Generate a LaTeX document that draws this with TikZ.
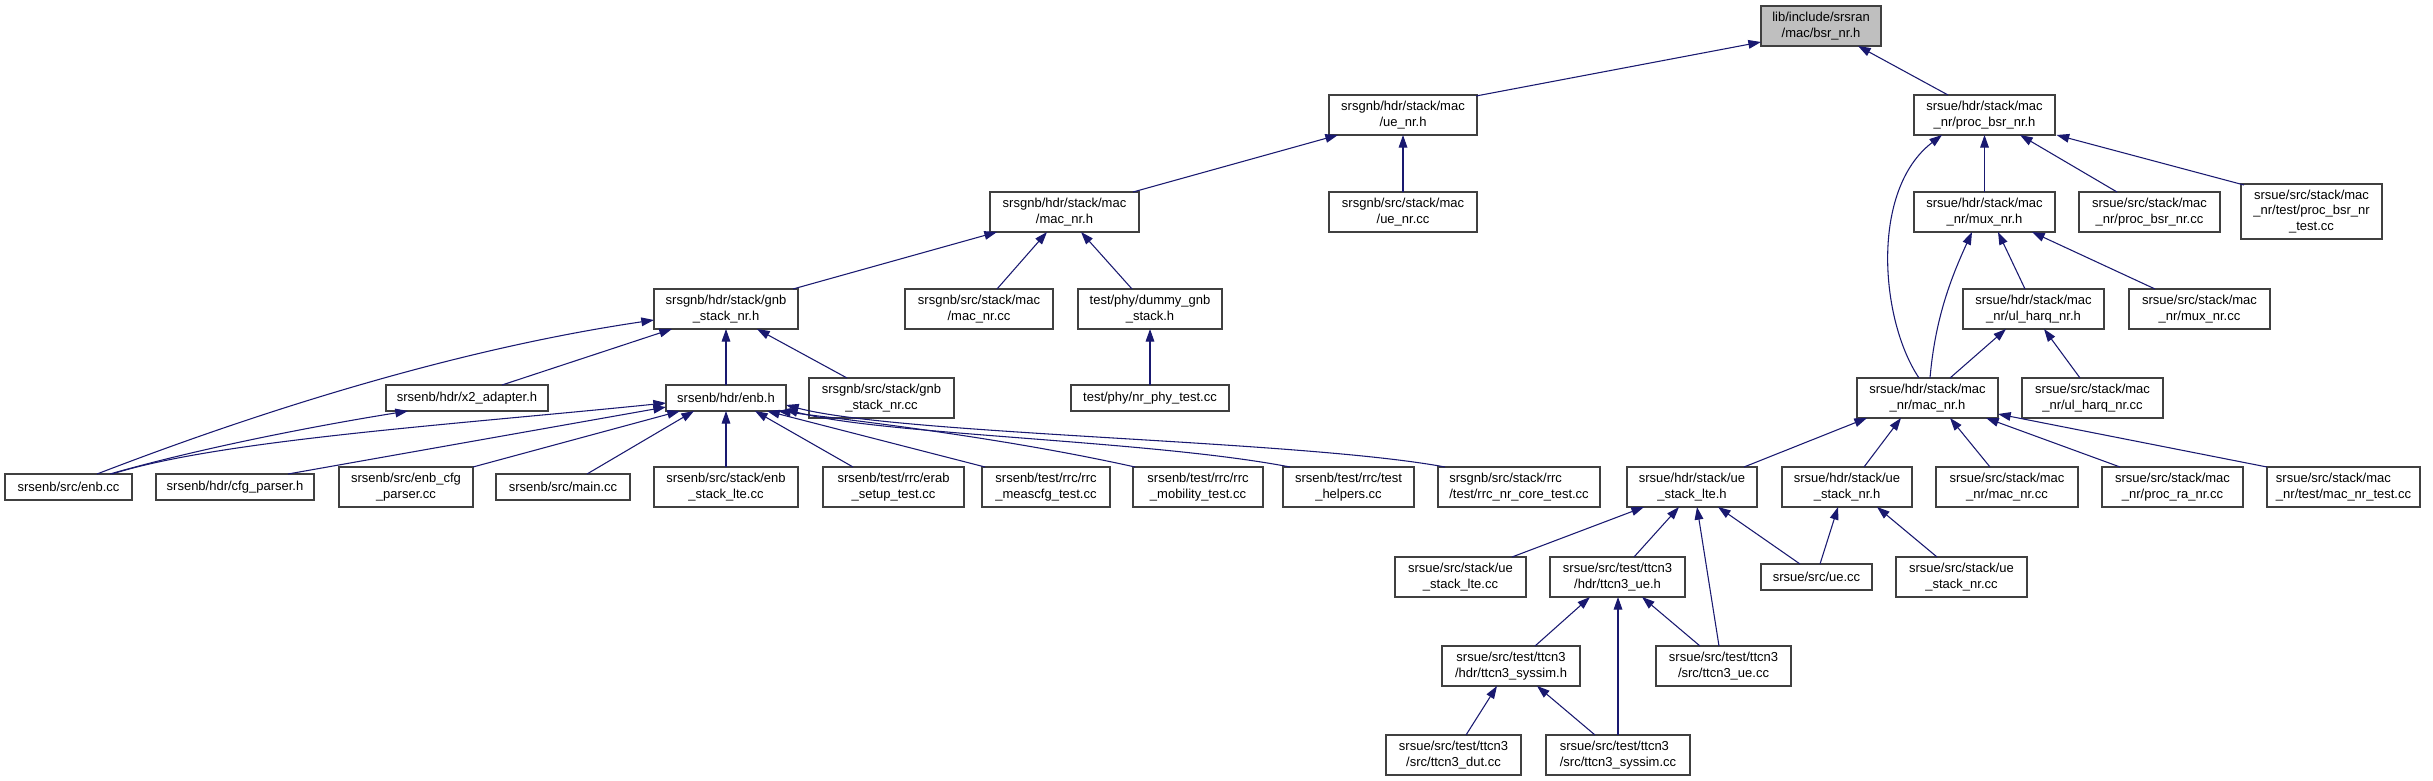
\documentclass[tikz,border=0pt]{standalone}
\usepackage{fontspec}
\setmainfont{Liberation Sans}
\usetikzlibrary{arrows.meta,calc}
\definecolor{edgecol}{HTML}{191970}
\definecolor{bordercol}{HTML}{404040}
\definecolor{rootfill}{HTML}{BFBFBF}
\newcommand\nodefont{\fontsize{9.75pt}{11.5pt}\selectfont}
\newcommand\mynode[7][center]{\node[box, align=#1, minimum width=#5*0.75pt, minimum height=#6*0.75pt] (#2) at (#3,#4) {#7};}
\newcommand\edg[6]{\draw[edge] ($(#1)+(#2,#3)$) -- ($(#4)+(#5,#6)$);}
\begin{document}
\begin{tikzpicture}[x=0.75pt,y=-0.75pt,
  box/.style={draw=bordercol, line width=1pt, fill=white, inner sep=0pt, font=\nodefont},
  edge/.style={draw=edgecol, line width=0.8pt, -{Triangle[length=9.5pt,width=6.5pt,fill=edgecol]}}]
\useasboundingbox[fill=white] (0,0) rectangle (2433,781);
% row 0
\node[box, fill=rootfill, align=center, minimum width=120*0.75pt, minimum height=40*0.75pt] (bsr) at (1821,26) {lib/include/srsran\\/mac/bsr\_nr.h};
% row 1
\mynode{uenrh}{1403}{115}{148}{40}{srsgnb/hdr/stack/mac\\/ue\_nr.h}
\mynode{procbsrh}{1984.5}{115}{141}{40}{srsue/hdr/stack/mac\\\_nr/proc\_bsr\_nr.h}
% row 2
\mynode{gmach}{1064.5}{212}{149}{40}{srsgnb/hdr/stack/mac\\/mac\_nr.h}
\mynode{uenrcc}{1403}{212}{148}{40}{srsgnb/src/stack/mac\\/ue\_nr.cc}
\mynode{muxh}{1984.5}{212}{141}{40}{srsue/hdr/stack/mac\\\_nr/mux\_nr.h}
\mynode{procbsrcc}{2149.5}{212}{141}{40}{srsue/src/stack/mac\\\_nr/proc\_bsr\_nr.cc}
\mynode{procbsrtest}{2311.5}{211.5}{141}{55}{srsue/src/stack/mac\\\_nr/test/proc\_bsr\_nr\\\_test.cc}
% row 3
\mynode{gstackh}{726}{309}{144}{40}{srsgnb/hdr/stack/gnb\\\_stack\_nr.h}
\mynode{gmaccc}{979}{309}{148}{40}{srsgnb/src/stack/mac\\/mac\_nr.cc}
\mynode{dummy}{1150}{309}{144}{40}{test/phy/dummy\_gnb\\\_stack.h}
\mynode{ulharqh}{2033.5}{309}{141}{40}{srsue/hdr/stack/mac\\\_nr/ul\_harq\_nr.h}
\mynode{muxcc}{2199.5}{309}{141}{40}{srsue/src/stack/mac\\\_nr/mux\_nr.cc}
% row 4
\mynode{x2}{467}{398}{162}{26}{srsenb/hdr/x2\_adapter.h}
\mynode{enbh}{726}{398}{120}{26}{srsenb/hdr/enb.h}
\mynode{gstackcc}{881.5}{398}{145}{40}{srsgnb/src/stack/gnb\\\_stack\_nr.cc}
\mynode{nrphy}{1150}{398}{158}{26}{test/phy/nr\_phy\_test.cc}
\mynode{uemach}{1927.5}{398}{141}{40}{srsue/hdr/stack/mac\\\_nr/mac\_nr.h}
\mynode{ulharqcc}{2092.5}{398}{141}{40}{srsue/src/stack/mac\\\_nr/ul\_harq\_nr.cc}
% row 5
\mynode{enbcc}{68.5}{487}{127}{26}{srsenb/src/enb.cc}
\mynode{cfgh}{235}{487}{158}{26}{srsenb/hdr/cfg\_parser.h}
\mynode{enbcfgcc}{406}{487}{134}{40}{srsenb/src/enb\_cfg\\\_parser.cc}
\mynode{maincc}{563}{487}{134}{26}{srsenb/src/main.cc}
\mynode{enbstackcc}{726}{487}{144}{40}{srsenb/src/stack/enb\\\_stack\_lte.cc}
\mynode{erab}{893.5}{487}{141}{40}{srsenb/test/rrc/erab\\\_setup\_test.cc}
\mynode{meascfg}{1046}{487}{128}{40}{srsenb/test/rrc/rrc\\\_meascfg\_test.cc}
\mynode{mobility}{1198}{487}{130}{40}{srsenb/test/rrc/rrc\\\_mobility\_test.cc}
\mynode{helpers}{1348.5}{487}{131}{40}{srsenb/test/rrc/test\\\_helpers.cc}
\mynode[left]{rrccore}{1519}{487}{162}{40}{srsgnb/src/stack/rrc\\/test/rrc\_nr\_core\_test.cc}
\mynode{uestackh}{1692}{487}{130}{40}{srsue/hdr/stack/ue\\\_stack\_lte.h}
\mynode{uestacknrh}{1847}{487}{130}{40}{srsue/hdr/stack/ue\\\_stack\_nr.h}
\mynode{uemaccc}{2007}{487}{142}{40}{srsue/src/stack/mac\\\_nr/mac\_nr.cc}
\mynode{procra}{2172.5}{487}{141}{40}{srsue/src/stack/mac\\\_nr/proc\_ra\_nr.cc}
\mynode[left]{macnrtest}{2343.5}{487}{153}{40}{srsue/src/stack/mac\\\_nr/test/mac\_nr\_test.cc}
% row 6
\mynode{uestackcc}{1460.5}{577}{131}{40}{srsue/src/stack/ue\\\_stack\_lte.cc}
\mynode{ttcn3ueh}{1617.5}{577}{135}{40}{srsue/src/test/ttcn3\\/hdr/ttcn3\_ue.h}
\mynode{uecc}{1816.5}{577}{111}{26}{srsue/src/ue.cc}
\mynode{uestacknrcc}{1961.5}{577}{131}{40}{srsue/src/stack/ue\\\_stack\_nr.cc}
% row 7
\mynode{syssimh}{1511}{666}{138}{40}{srsue/src/test/ttcn3\\/hdr/ttcn3\_syssim.h}
\mynode{ttcn3uecc}{1723.5}{666}{135}{40}{srsue/src/test/ttcn3\\/src/ttcn3\_ue.cc}
% row 8
\mynode{dut}{1453.5}{755}{135}{40}{srsue/src/test/ttcn3\\/src/ttcn3\_dut.cc}
\mynode[left]{syssimcc}{1618}{755}{144}{40}{srsue/src/test/ttcn3\\/src/ttcn3\_syssim.cc}
% edges
\edg{uenrh}{73}{-19}{bsr}{-60}{16}
\edg{procbsrh}{-36.5}{-20}{bsr}{37}{20}
\edg{uenrcc}{0}{-20}{uenrh}{0}{20}
\edg{gmach}{68.5}{-20}{uenrh}{-65}{20}
\edg{gstackh}{67}{-20}{gmach}{-67.5}{20}
\edg{gmaccc}{18}{-20}{gmach}{-17.5}{20}
\edg{dummy}{-18}{-20}{gmach}{16.5}{20}
\edg{nrphy}{0}{-13}{dummy}{0}{20}
\draw[edge] ($(enbcc)+(28.5,-13)$) .. controls (250,415) and (450,350) .. ($(gstackh)+(-72,11)$);
\edg{x2}{35}{-13}{gstackh}{-54}{20}
\edg{enbh}{0}{-13}{gstackh}{0}{20}
\edg{gstackcc}{-34.5}{-20}{gstackh}{31}{20}
\draw[edge] ($(enbcc)+(41.5,-13)$) .. controls (200,448) and (320,425) .. ($(x2)+(-59,13)$);
\draw[edge] ($(enbcc)+(43.5,-13)$) .. controls (220,440) and (450,425) .. ($(enbh)+(-60,5)$);
\edg{cfgh}{53}{-13}{enbh}{-60}{9}
\edg{enbcfgcc}{67}{-20}{enbh}{-46}{13}
\edg{maincc}{24}{-13}{enbh}{-32}{13}
\edg{enbstackcc}{0}{-20}{enbh}{0}{13}
\edg{erab}{-40.5}{-20}{enbh}{29}{13}
\edg{meascfg}{-61}{-20}{enbh}{41}{13}
\draw[edge] ($(mobility)+(-63,-20)$) .. controls (1000,437) and (850,420) .. ($(enbh)+(52,13)$);
\draw[edge] ($(helpers)+(-58.5,-20)$) .. controls (1150,440) and (880,435) .. ($(enbh)+(59,11)$);
\draw[edge] ($(rrccore)+(-74,-20)$) .. controls (1300,440) and (900,435) .. ($(enbh)+(60,7)$);
\draw[edge] ($(uemach)+(-8.5,-20)$) .. controls (1880,320) and (1870,190) .. ($(procbsrh)+(-42.5,20)$);
\edg{muxh}{0}{-20}{procbsrh}{0}{20}
\edg{procbsrcc}{-32.5}{-20}{procbsrh}{35.5}{20}
\edg{procbsrtest}{-67.5}{-26.5}{procbsrh}{72}{20}
\draw[edge] ($(uemach)+(2.5,-20)$) .. controls (1935,320) and (1950,280) .. ($(muxh)+(-12.5,20)$);
\edg{ulharqh}{-8.5}{-20}{muxh}{13.5}{20}
\edg{muxcc}{-44.5}{-20}{muxh}{47.5}{20}
\edg{uemach}{22.5}{-20}{ulharqh}{-27.5}{20}
\edg{ulharqcc}{-12.5}{-20}{ulharqh}{10.5}{20}
\edg{uestackh}{52}{-20}{uemach}{-60.5}{20}
\edg{uestacknrh}{17}{-20}{uemach}{-26.5}{20}
\edg{uemaccc}{-17}{-20}{uemach}{22.5}{20}
\edg{procra}{-52.5}{-20}{uemach}{58.5}{20}
\edg{macnrtest}{-76.5}{-20}{uemach}{70.5}{16}
\edg{uestackcc}{51.5}{-20}{uestackh}{-48}{20}
\edg{ttcn3ueh}{16.5}{-20}{uestackh}{-13}{20}
\edg{ttcn3uecc}{-4.5}{-20}{uestackh}{5}{20}
\edg{uecc}{-16.5}{-13}{uestackh}{26}{20}
\edg{uecc}{3.5}{-13}{uestacknrh}{-9}{20}
\edg{uestacknrcc}{-24.5}{-20}{uestacknrh}{30}{20}
\edg{syssimh}{24}{-20}{ttcn3ueh}{-27.5}{20}
\edg{syssimcc}{0}{-20}{ttcn3ueh}{0.5}{20}
\edg{ttcn3uecc}{-23.5}{-20}{ttcn3ueh}{24.5}{20}
\edg{dut}{12.5}{-20}{syssimh}{-14}{20}
\edg{syssimcc}{-23}{-20}{syssimh}{26}{20}
\end{tikzpicture}
\end{document}
